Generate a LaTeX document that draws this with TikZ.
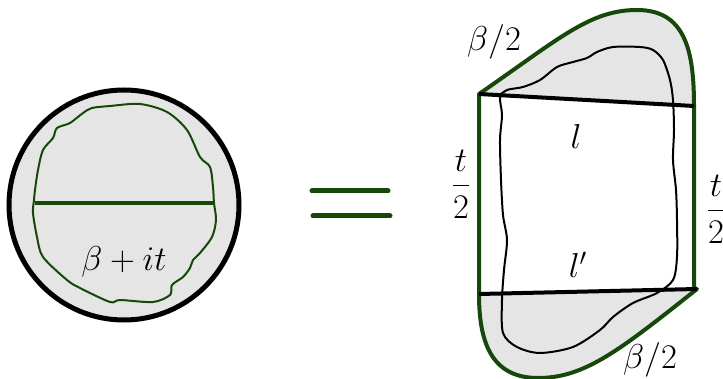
\documentclass[tikz,border=0pt]{standalone}
\usepackage{amsmath,amssymb,amsfonts}
\usepackage{xcolor}
\usepackage{tikz}
\usetikzlibrary{calc}
\definecolor{loopgreen}{RGB}{22,72,10}
\definecolor{capgray}{gray}{0.9}

\begin{document}
\begin{tikzpicture}[x=0.5pt,y=-0.5pt,
  rim/.style={line width=2.5pt},
  wiggle/.style={line width=1pt,line join=round},
  cut/.style={line width=2pt},
  lab/.style={font=\fontsize{16.5}{20}\selectfont}]
\useasboundingbox (0,0) rectangle (723,379);
% disc with the thermal circle
\draw[rim,fill=capgray] (124,205) circle[radius=115];
\draw[wiggle,loopgreen] plot[smooth cycle,tension=0.5] coordinates {
  (83,113) (92,108) (110,106) (140,104) (167,112) (187,130) (200,157) (210,167)
  (213,187) (214,203) (216,220) (212,237) (200,253) (193,260) (190,268) (183,277)
  (172,285) (170,295) (153,302) (120,300) (110,302) (80,288) (67,280) (43,257)
  (37,237) (33,213) (34,200) (35,190) (38,170) (43,150) (53,138) (57,128) (70,123)};
\draw[cut,loopgreen] (35,203) -- (213,203);
\node[lab] (sum) at (124,262) {$\beta+it$};
% equals sign
\draw[rim,loopgreen,line cap=round] (312,191) -- (388,191);
\draw[rim,loopgreen,line cap=round] (313,216) -- (390,216);
% cut open geometry
\coordinate (A) at (479,94);
\coordinate (B) at (694,106);
\coordinate (C) at (479,294);
\coordinate (D) at (697,289);
\fill[capgray] (A) .. controls (560,38) and (590,10) .. (637,10) .. controls (685,10) and (694,50) .. (B) -- cycle;
\fill[capgray] (C) .. controls (479,340) and (490,378) .. (538,378) .. controls (585,378) and (620,350) .. (D) -- cycle;
\draw[wiggle] plot[smooth cycle,tension=0.5] coordinates {
  (500,97) (507,90) (523,87) (540,80) (557,67) (573,62) (587,58) (597,52)
  (613,47) (640,47) (653,50) (663,60) (670,80) (673,100) (674,130) (673,160)
  (676,190) (677,220) (677,257) (673,280) (657,293) (633,303) (613,317) (600,330)
  (573,347) (540,353) (517,347) (503,333) (502,300) (504,270) (507,240) (503,215)
  (501,180) (500,140) (502,115)};
\draw[cut,loopgreen,line join=round] (A) .. controls (560,38) and (590,10) .. (637,10)
  .. controls (685,10) and (694,50) .. (B) -- (694,289) -- (D)
  .. controls (620,350) and (585,378) .. (538,378) .. controls (490,378) and (479,340) .. (C) -- cycle;
\draw[cut] (A) -- (B);
\draw[cut] (C) -- (D);
\node[lab] (btop) at (494,42) {$\beta/2$};
\node[lab] (bbot) at (650,360) {$\beta/2$};
\node[lab] (ltop) at (576,137) {$l$};
\node[lab] (lbot) at (578,265) {$l'$};
\node[lab] (tleft) at (461,184) {$\dfrac{t}{2}$};
\node[lab] (tright) at (716,209) {$\dfrac{t}{2}$};
\end{tikzpicture}
\end{document}
